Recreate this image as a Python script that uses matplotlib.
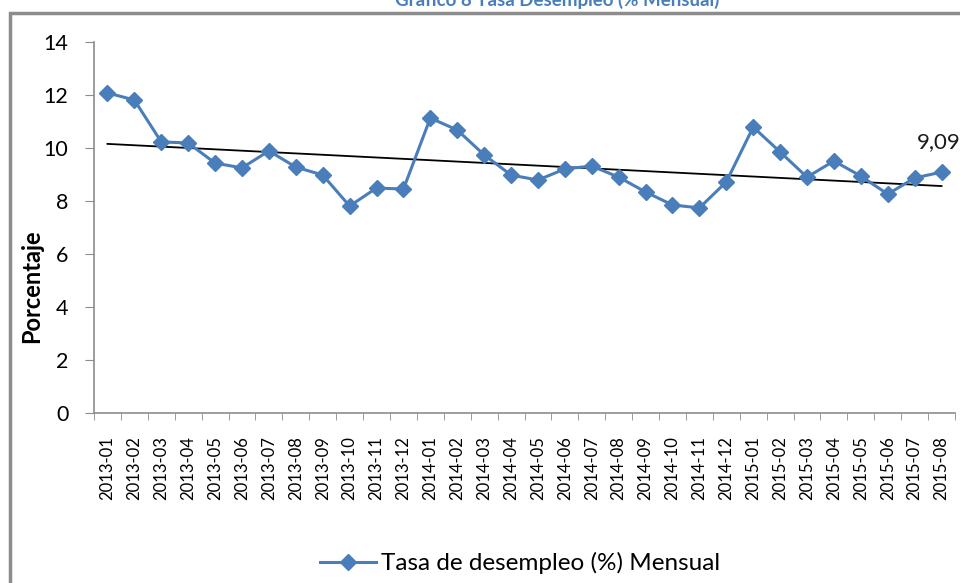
import numpy as np
import matplotlib
matplotlib.use("Agg")
from matplotlib import pyplot, ticker, patches
from matplotlib.lines import Line2D

months = [
    "2013-01", "2013-02", "2013-03", "2013-04", "2013-05", "2013-06",
    "2013-07", "2013-08", "2013-09", "2013-10", "2013-11", "2013-12",
    "2014-01", "2014-02", "2014-03", "2014-04", "2014-05", "2014-06",
    "2014-07", "2014-08", "2014-09", "2014-10", "2014-11", "2014-12",
    "2015-01", "2015-02", "2015-03", "2015-04", "2015-05", "2015-06",
    "2015-07", "2015-08",
]
desempleo = [
    12.08, 11.81, 10.23, 10.19, 9.43, 9.25,
    9.89, 9.28, 8.98, 7.81, 8.49, 8.45,
    11.13, 10.68, 9.74, 8.98, 8.79, 9.21,
    9.32, 8.90, 8.34, 7.85, 7.74, 8.72,
    10.79, 9.85, 8.90, 9.51, 8.94, 8.26,
    8.87, 9.09,
]
yticks = [0, 2, 4, 6, 8, 10, 12, 14]

blue = "#4A7EBB"
grey = "#8C8C8C"
font = ["Lato", "DejaVu Sans"]
pyplot.rcParams["font.family"] = font


def main():
    x = np.arange(len(months))
    y = np.array(desempleo)

    fig = pyplot.figure(figsize=(9.6, 5.83), dpi=100)
    ax = fig.add_axes([94 / 960, 1 - 413 / 583, (955 - 94) / 960, (413 - 42) / 583])

    # outer chart frame (cut off at right/bottom like the original)
    fig.patches.append(
        patches.Rectangle(
            (10 / 960, -0.1), 1.2, 1.1 - 13 / 583,
            transform=fig.transFigure, fill=False,
            edgecolor=grey, linewidth=2.5,
        )
    )

    ax.plot(x, y, color=blue, linewidth=2.2, marker="D", markersize=8,
            markerfacecolor=blue, markeredgecolor=blue, zorder=3)

    slope, inter = np.polyfit(x, y, 1)
    ax.plot(x, slope * x + inter, color="black", linewidth=1.3, zorder=2)

    ax.annotate("9,09", xy=(x[-1], y[-1]), xytext=(-18, 17),
                textcoords="offset points", fontsize=16, color="#1A1A1A",
                annotation_clip=False)

    ax.set_xlim(-0.5, len(months) - 0.5)
    ax.set_ylim(0, 14)
    ax.set_yticks(yticks)
    ax.set_yticklabels([str(v) for v in yticks], fontsize=15.5)
    ax.set_xticks(x)
    ax.set_xticklabels(months, rotation=90, fontsize=12)
    ax.xaxis.set_minor_locator(ticker.FixedLocator(np.arange(-0.5, len(months), 1)))
    ax.tick_params(axis="x", which="major", length=0, pad=17)
    ax.tick_params(axis="x", which="minor", length=5, color=grey)
    ax.tick_params(axis="y", length=6.5, color=grey, pad=12)

    for side in ["top", "right"]:
        ax.spines[side].set_visible(False)
    for side in ["left", "bottom"]:
        ax.spines[side].set_color(grey)
        ax.spines[side].set_linewidth(1.2)

    ax.set_ylabel("Porcentaje", fontsize=17, fontweight="bold")
    ax.yaxis.set_label_coords((43 - 94) / 861, (413 - 286) / 371)

    fig.text(0.58, 1.0, "Gráfico 8 Tasa Desempleo (% Mensual)", ha="center",
             va="center", fontsize=13.5, fontweight="bold", color=blue)

    handle = Line2D([], [], color=blue, linewidth=2.2, marker="D", markersize=8)
    fig.legend([handle], ["Tasa de desempleo (%) Mensual"], loc="center",
               bbox_to_anchor=(0.542, 1 - 563 / 583), frameon=False,
               fontsize=17.5, handlelength=2.3, handletextpad=0.2)

    fig.savefig("out.png", dpi=100)


if __name__ == "__main__":
    main()
